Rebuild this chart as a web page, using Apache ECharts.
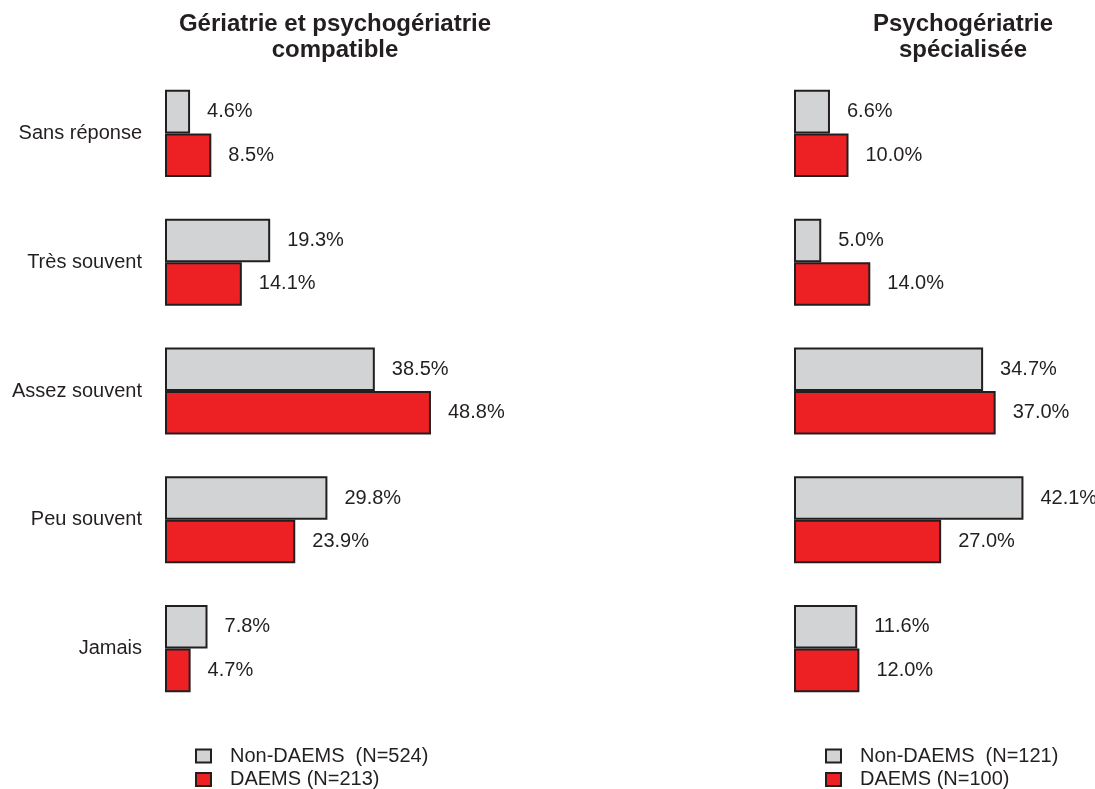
<!DOCTYPE html>
<html>
<head>
<meta charset="utf-8">
<script src="https://cdn.jsdelivr.net/npm/echarts@6/dist/echarts.min.js"></script>
<style>
  html, body { margin: 0; padding: 0; background: #fff; }
  #chart { width: 1095px; height: 789px; }
</style>
</head>
<body>
<div id="chart"></div>
<script>
const categories = ['Sans réponse', 'Très souvent', 'Assez souvent', 'Peu souvent', 'Jamais']
const titles = ['Gériatrie et psychogériatrie\ncompatible', 'Psychogériatrie\nspécialisée']

// Gériatrie et psychogériatrie compatible
const leftNonDaems = [4.6, 19.3, 38.5, 29.8, 7.8]
const leftDaems = [8.5, 14.1, 48.8, 23.9, 4.7]
const leftNames = ['Non-DAEMS  (N=524)', 'DAEMS (N=213)']

// Psychogériatrie spécialisée
const rightNonDaems = [6.6, 5.0, 34.7, 42.1, 11.6]
const rightDaems = [10.0, 14.0, 37.0, 27.0, 12.0]
const rightNames = ['Non-DAEMS  (N=121)', 'DAEMS (N=100)']

const textColor = '#231f20'
const greyFill = '#d1d3d4'
const redFill = '#ed2024'
const fontFamily = 'Liberation Sans, Arial, sans-serif'

const chart = echarts.init(document.getElementById('chart'), null, { renderer: 'canvas' })

const makeSeries = (name, data, color, idx) => ({
  name: name,
  type: 'bar',
  xAxisIndex: idx,
  yAxisIndex: idx,
  data: data,
  barGap: '0%',
  barCategoryGap: '32.4%',
  itemStyle: { color: color, borderColor: textColor, borderWidth: 2 },
  label: {
    show: true,
    position: 'right',
    distance: 17,
    color: textColor,
    fontSize: 20,
    fontFamily: fontFamily,
    formatter: p => p.value.toFixed(1) + '%'
  },
  animation: false
})

// 图例：竖排，给足高度避免换列
const makeLegend = (names, left) => ({
  orient: 'vertical',
  left: left,
  top: 746,
  height: 80,
  padding: 0,
  data: names,
  icon: 'rect',
  itemWidth: 15,
  itemHeight: 13,
  itemGap: 3.5,
  itemStyle: { borderColor: textColor, borderWidth: 2 },
  textStyle: {
    color: textColor,
    fontSize: 20,
    lineHeight: 20,
    fontFamily: fontFamily,
    padding: [0, 0, 0, 14]
  }
})

const titleStyle = {
  color: textColor,
  fontSize: 24,
  fontWeight: 'bold',
  fontFamily: fontFamily,
  lineHeight: 26
}

const option = {
  backgroundColor: '#fff',
  animation: false,
  title: [
    { text: titles[0], left: 330, top: 6, textAlign: 'center', textStyle: titleStyle },
    { text: titles[1], left: 958, top: 6, textAlign: 'center', textStyle: titleStyle }
  ],
  legend: [makeLegend(leftNames, 195), makeLegend(rightNames, 825)],
  grid: [
    { left: 165, top: 69, width: 272.5, height: 644 },
    { left: 794, top: 69, width: 272.5, height: 644 }
  ],
  xAxis: [0, 1].map(i => ({
    gridIndex: i,
    type: 'value',
    min: 0,
    max: 50,
    show: false
  })),
  yAxis: [0, 1].map(i => ({
    gridIndex: i,
    type: 'category',
    data: categories,
    inverse: true,
    axisLine: { show: false },
    axisTick: { show: false },
    splitLine: { show: false },
    axisLabel: {
      show: i === 0,
      margin: 23,
      color: textColor,
      fontSize: 20,
      fontFamily: fontFamily
    }
  })),
  series: [
    makeSeries(leftNames[0], leftNonDaems, greyFill, 0),
    makeSeries(leftNames[1], leftDaems, redFill, 0),
    makeSeries(rightNames[0], rightNonDaems, greyFill, 1),
    makeSeries(rightNames[1], rightDaems, redFill, 1)
  ]
}

chart.setOption(option)
</script>
</body>
</html>
